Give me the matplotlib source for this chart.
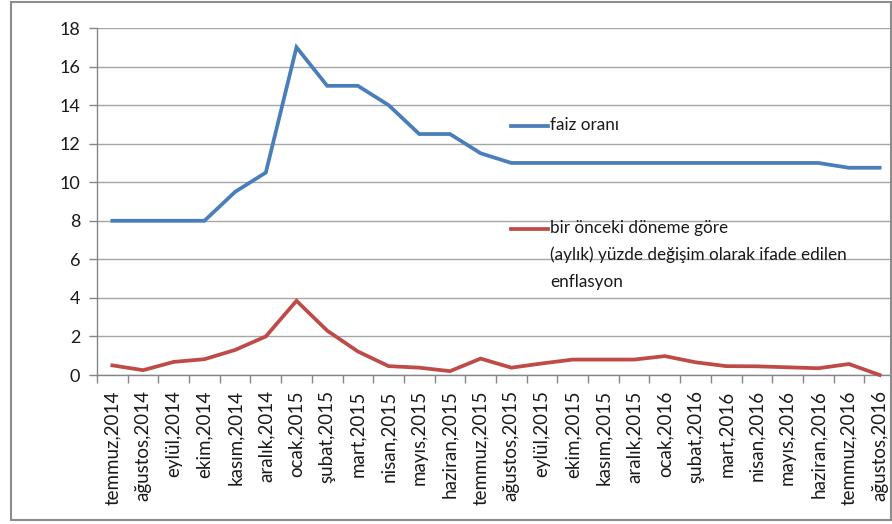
import matplotlib
matplotlib.use("Agg")
import matplotlib.pyplot as plt
from matplotlib.patches import Rectangle
from matplotlib.lines import Line2D

plt.rcParams['font.family'] = ['Lato', 'DejaVu Sans']

categories = ["temmuz,2014", "ağustos,2014", "eylül,2014", "ekim,2014", "kasım,2014",
              "aralık,2014", "ocak,2015", "şubat,2015", "mart,2015", "nisan,2015",
              "mayıs,2015", "haziran,2015", "temmuz,2015", "ağustos,2015", "eylül,2015",
              "ekim,2015", "kasım,2015", "aralık,2015", "ocak,2016", "şubat,2016",
              "mart,2016", "nisan,2016", "mayıs,2016", "haziran,2016", "temmuz,2016",
              "ağustos,2016"]
faiz = [8, 8, 8, 8, 9.5, 10.5, 17, 15, 15, 14, 12.5, 12.5, 11.5, 11, 11,
        11, 11, 11, 11, 11, 11, 11, 11, 11, 10.75, 10.75]
enflasyon = [0.5, 0.25, 0.68, 0.82, 1.3, 2.0, 3.85, 2.3, 1.22, 0.46, 0.38, 0.2,
             0.85, 0.38, 0.6, 0.8, 0.8, 0.8, 0.98, 0.66, 0.46, 0.45, 0.4, 0.35,
             0.57, 0.0]
label_faiz = "faiz oranı"
label_enf = "bir önceki döneme göre\n(aylık) yüzde değişim olarak ifade edilen\nenflasyon"

blue = "#4A7EBB"
red = "#BE4B48"

W, H = 892, 524
fig = plt.figure(figsize=(W / 100, H / 100), dpi=100)

# outer frame
fig.patches.append(Rectangle((11 / W, 4 / H), 0.999 - 11 / W, 1 - 6 / H,
                             transform=fig.transFigure, fill=False,
                             edgecolor="#8c8c8c", linewidth=1.5))

ax = fig.add_axes([97 / W, (H - 375) / H, 798 / W, 347 / H])
x = list(range(len(categories)))
ax.plot(x, faiz, color=blue, linewidth=2.7, solid_joinstyle="miter", zorder=3, clip_on=False)
ax.plot(x, enflasyon, color=red, linewidth=2.7, solid_joinstyle="miter", zorder=3, clip_on=False)

ax.set_xlim(-0.5, len(categories) - 0.5)
ax.set_ylim(0, 18)
ax.set_yticks(range(0, 19, 2))
ax.yaxis.grid(True, color="#a6a6a6", linewidth=1)
ax.set_axisbelow(True)

ax.set_xticks(x)
ax.set_xticklabels(categories, rotation=90, fontsize=13.5, color="#1a1a1a")
ax.set_xticks([i - 0.5 for i in range(len(categories) + 1)], minor=True)
ax.tick_params(axis="x", which="major", length=0, pad=11)
ax.tick_params(axis="x", which="minor", length=6, color="#868686", width=1)
ax.tick_params(axis="y", length=6, color="#868686", width=1, labelsize=13,
               labelcolor="#1a1a1a", pad=6)

for s in ["top", "right"]:
    ax.spines[s].set_visible(False)
for s in ["left", "bottom"]:
    ax.spines[s].set_color("#868686")
    ax.spines[s].set_linewidth(1)

# legend-like annotations
def px(xp, yp):
    return ((xp - 97) / 798 * len(categories) - 0.5, (375 - yp) / 347 * 18)

for (yl, txt, col) in [(126, label_faiz, blue), (229, label_enf, red)]:
    x0, y0 = px(511, yl)
    x1, _ = px(548, yl)
    ax.add_line(Line2D([x0, x1], [y0, y0], color=col, linewidth=2.7, zorder=4))
    xt, yt = px(550, yl - 9)
    ax.text(xt, yt, txt, fontsize=12.3, color="#1a1a1a", va="top", ha="left",
            linespacing=1.8, zorder=4)

fig.savefig("out.png", dpi=100)
